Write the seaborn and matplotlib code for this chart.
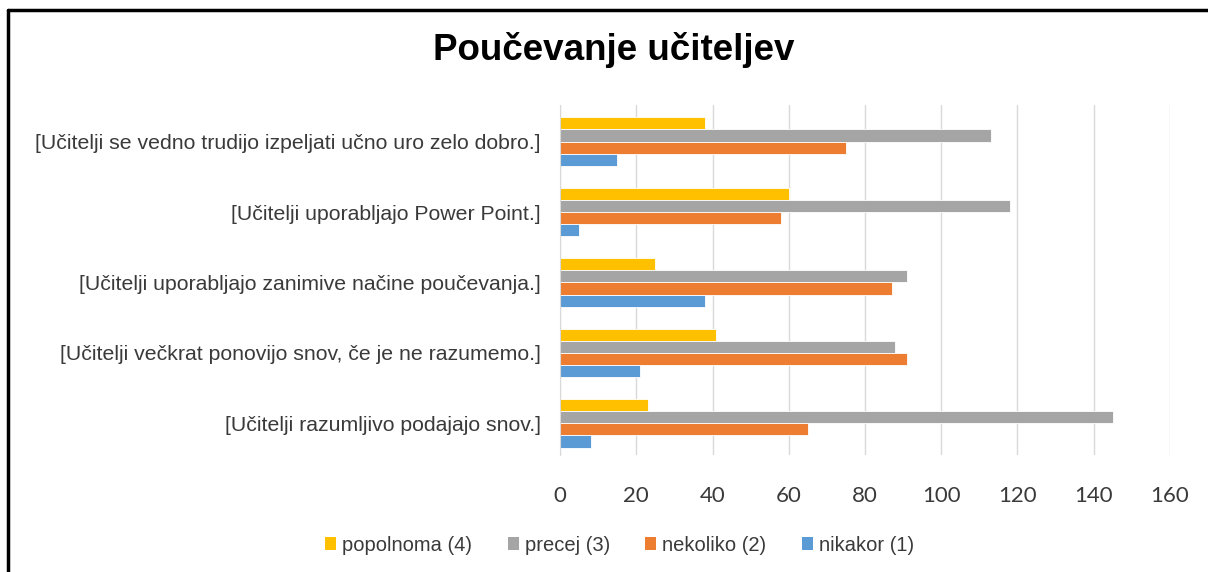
import pandas as pd
import matplotlib.pyplot as plt
import seaborn as sns
from matplotlib.lines import Line2D
from matplotlib.patches import Patch

# survey answers per statement
statements = [
    "[Učitelji se vedno trudijo izpeljati učno uro zelo dobro.]",
    "[Učitelji uporabljajo Power Point.]",
    "[Učitelji uporabljajo zanimive načine poučevanja.]",
    "[Učitelji večkrat ponovijo snov, če je ne razumemo.]",
    "[Učitelji razumljivo podajajo snov.]",
]
answers = ["popolnoma (4)", "precej (3)", "nekoliko (2)", "nikakor (1)"]
popolnoma = [38, 60, 25, 41, 23]
precej = [113, 118, 91, 88, 145]
nekoliko = [75, 58, 87, 91, 65]
nikakor = [15, 5, 38, 21, 8]
colors = ["#FFC000", "#A5A5A5", "#ED7D31", "#5B9BD5"]

rows = []
for ans, vals in zip(answers, [popolnoma, precej, nekoliko, nikakor]):
    for st, v in zip(statements, vals):
        rows.append({"Trditev": st, "Odgovor": ans, "Število": v})
df = pd.DataFrame(rows)

sns.set_style("white")
plt.rcParams["font.family"] = ["Liberation Sans", "DejaVu Sans"]

fig = plt.figure(figsize=(12.08, 5.72), dpi=100)
ax = fig.add_axes([0.4636, 0.2045, 0.5049, 0.612])

sns.barplot(
    data=df, y="Trditev", x="Število", hue="Odgovor",
    order=statements, hue_order=answers, palette=colors,
    orient="h", width=0.69, ax=ax, legend=False,
    edgecolor="white", linewidth=0.6, saturation=1,
)

ax.set_xlim(0, 160)
ax.set_ylim(4.45, -0.52)
ax.set_xticks(range(0, 161, 20))
ax.xaxis.grid(True, color="#D9D9D9", linewidth=1)
ax.set_axisbelow(True)
for s in ["top", "right", "bottom"]:
    ax.spines[s].set_visible(False)
ax.spines["left"].set_color("#D9D9D9")
ax.set_xlabel("")
ax.set_ylabel("")
ax.tick_params(axis="x", length=0, pad=22, labelsize=16, labelcolor="#3A3A3A")
ax.tick_params(axis="y", length=0, pad=14, labelsize=15.3, labelcolor="#3A3A3A")
for lab in ax.get_xticklabels():
    lab.set_family(["Lato", "DejaVu Sans"])

fig.text(0.508, 1 - 60 / 572, "Poučevanje učiteljev", ha="center",
         va="baseline", fontsize=26.5, fontweight="bold", color="black")

handles = [Patch(facecolor=c, edgecolor="none") for c in colors]
fig.legend(handles, answers, loc="center", bbox_to_anchor=(0.513, 0.047),
           ncol=4, frameon=False, fontsize=14.5, handlelength=0.55,
           handleheight=0.55, handletextpad=0.3, columnspacing=1.75,
           labelcolor="#3A3A3A")

# outer frame (left and top edges visible in the reference)
fig.add_artist(Line2D([8 / 1208, 8 / 1208], [0, 1 - 10 / 572],
                      transform=fig.transFigure, color="black", linewidth=2.5))
fig.add_artist(Line2D([8 / 1208, 1], [1 - 10 / 572, 1 - 10 / 572],
                      transform=fig.transFigure, color="black", linewidth=2.5))

fig.savefig("out.png", dpi=100)
